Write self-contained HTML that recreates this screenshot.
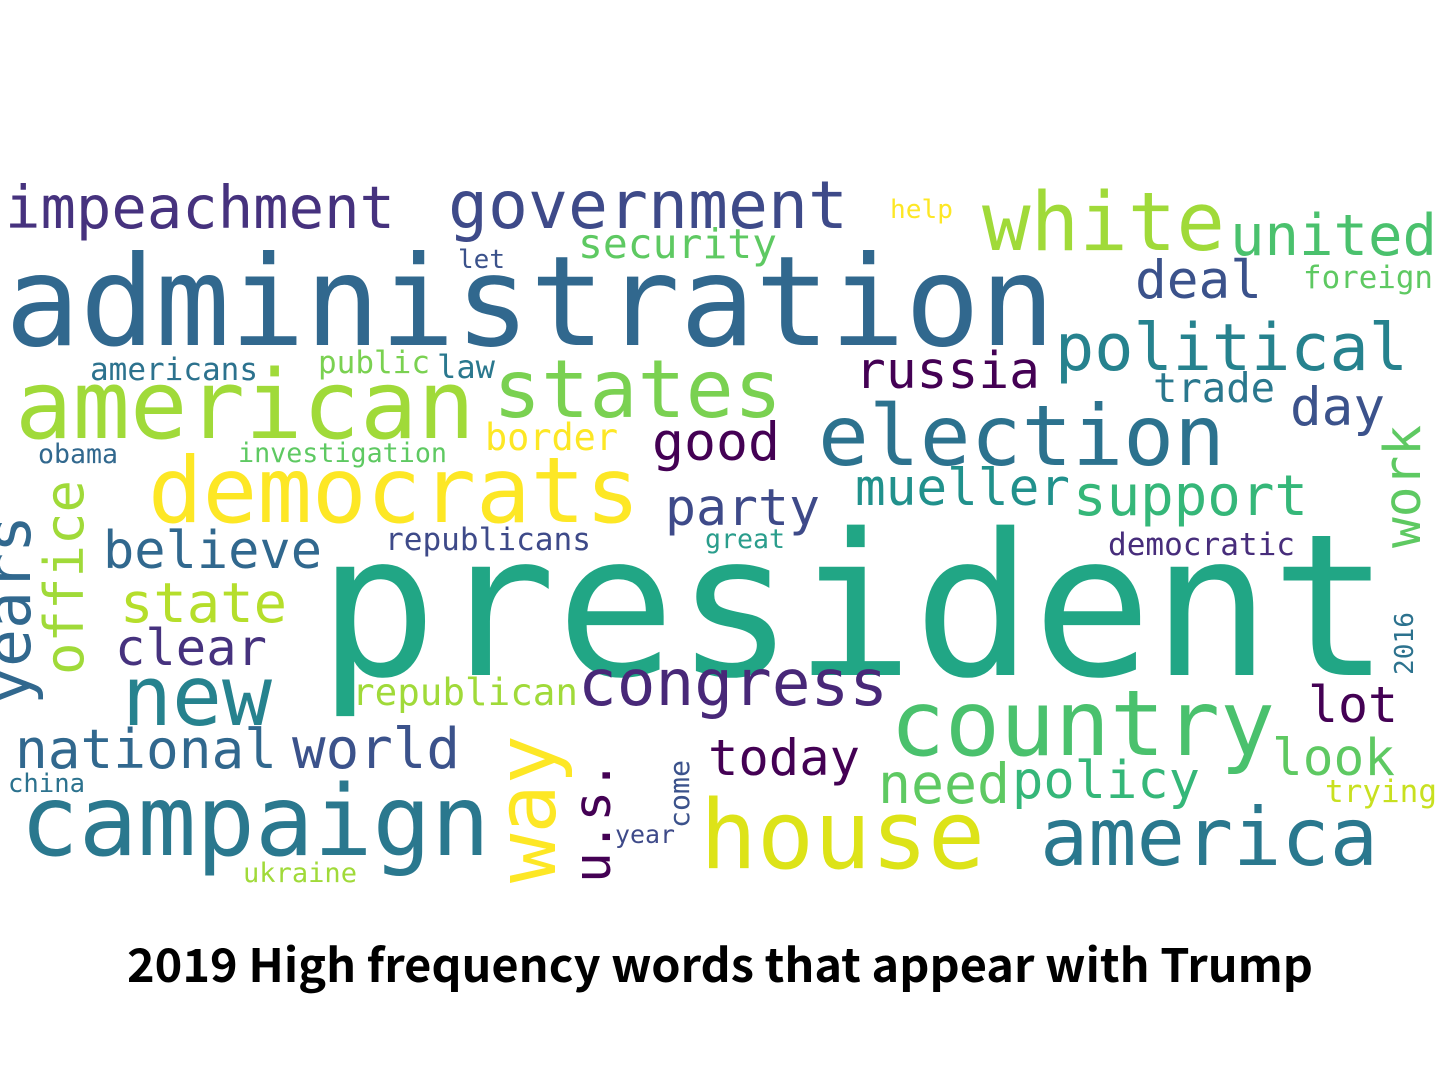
<!DOCTYPE html>
<html>
<head>
<meta charset="utf-8">
<style>
html,body{margin:0;padding:0;background:#fff;}
svg{display:block;}
.w{font-family:"DejaVu Sans Mono","Liberation Mono",monospace;}
.t{font-family:"Noto Sans CJK SC","Liberation Sans",sans-serif;font-weight:bold;}
</style>
</head>
<body>
<svg width="1440" height="1080" viewBox="0 0 1440 1080">
<rect x="0" y="0" width="1440" height="1080" fill="#fff"/>
<g id="cloud"></g>
<text class="t" x="720" y="982" text-anchor="middle" font-size="46" textLength="1186" lengthAdjust="spacingAndGlyphs" fill="#000">2019 High frequency words that appear with Trump</text>
</svg>
<script>
const words = ["impeachment","government","help","white","united","security","let","administration","deal","foreign","political","russia","trade","americans","public","law","american","states","border","good","election","day","obama","investigation","democrats","mueller","support","work","party","years","office","believe","republicans","great","democratic","president","state","2016","clear","new","republican","congress","country","lot","national","world","way","u.s.","today","look","need","policy","china","trying","come","year","campaign","house","america","ukraine"];
const colors = ["#46327e","#3e4a89","#fde725","#a0da39","#4ac16d","#5ec962","#3b528b","#31688e","#3b528b","#5ec962","#26828e","#440154","#2a788e","#2c728e","#7ad151","#2a788e","#a0da39","#7ad151","#fde725","#440154","#2c728e","#3b528b","#31688e","#5ec962","#fde725","#21918c","#35b779","#5ec962","#3e4a89","#31688e","#a0da39","#31688e","#3e4a89","#2a9d8c","#472d7b","#21a685","#b5de2b","#2c728e","#46327e","#26828e","#a0da39","#482878","#4ac16d","#440154","#31688e","#3b528b","#fde725","#440154","#440154","#5ec962","#5ec962","#35b779","#2c728e","#c8e020","#3b528b","#3e4a89","#2a788e","#dde318","#2a788e","#a0da39"];
// layout: [x, y(baseline), length, fontSize, rotated(1=vertical)]
const layout = [
[5,228,390,59,0],[448,228,400,66,0],[890,218,63,26,0],[982,250,243,81,0],[1230,255,207,57,0],
[578,258,199,41,0],[458,268,47,26,0],[5,345,1050,125,0],[1135,298,127,53,0],[1303,288,130,31,0],
[1055,370,353,65,0],[855,388,185,51,0],[1153,402,122,41,0],[90,380,168,31,0],[318,373,112,31,0],
[437,378,58,32,0],[15,438,460,95,0],[493,417,289,80,0],[485,450,133,37,0],[652,460,128,53,0],
[818,465,407,84,0],[1290,425,95,53,0],[38,463,80,27,0],[238,462,209,27,0],[148,522,492,91,0],
[855,505,215,51,0],[1073,515,235,56,0],[1420,548,123,51,1],[665,525,155,51,0],[30,705,190,63,1],
[83,675,195,54,1],[103,568,219,52,0],[385,550,206,31,0],[705,548,80,27,0],[1108,555,187,31,0],
[318,675,1072,198,0],[120,622,167,55,0],[1413,675,63,26,1],[115,665,152,50,0],[122,725,150,83,0],
[352,705,226,37,0],[578,705,310,64,0],[890,755,385,91,0],[1308,722,90,50,0],[15,768,262,54,0],
[292,768,168,56,0],[555,883,148,82,1],[610,883,123,51,1],[708,775,152,50,0],[1272,775,123,51,0],
[878,803,132,55,0],[1012,798,188,52,0],[8,792,77,26,0],[1325,802,112,31,0],[689,828,68,28,1],
[615,843,60,25,0],[20,855,470,98,0],[700,868,285,95,0],[1040,865,338,80,0],[243,882,114,27,0]
];
const g = document.getElementById('cloud');
const NS = 'http://www.w3.org/2000/svg';
words.forEach((w, i) => {
  const L = layout[i];
  const t = document.createElementNS(NS, 'text');
  t.setAttribute('class', 'w');
  t.setAttribute('x', L[0]);
  t.setAttribute('y', L[1]);
  t.setAttribute('font-size', L[3]);
  t.setAttribute('textLength', L[2]);
  t.setAttribute('lengthAdjust', 'spacingAndGlyphs');
  t.setAttribute('fill', colors[i]);
  if (L[4]) t.setAttribute('transform', 'rotate(-90 ' + L[0] + ' ' + L[1] + ')');
  t.textContent = w;
  
  
  g.appendChild(t);
});
</script>
</body>
</html>
